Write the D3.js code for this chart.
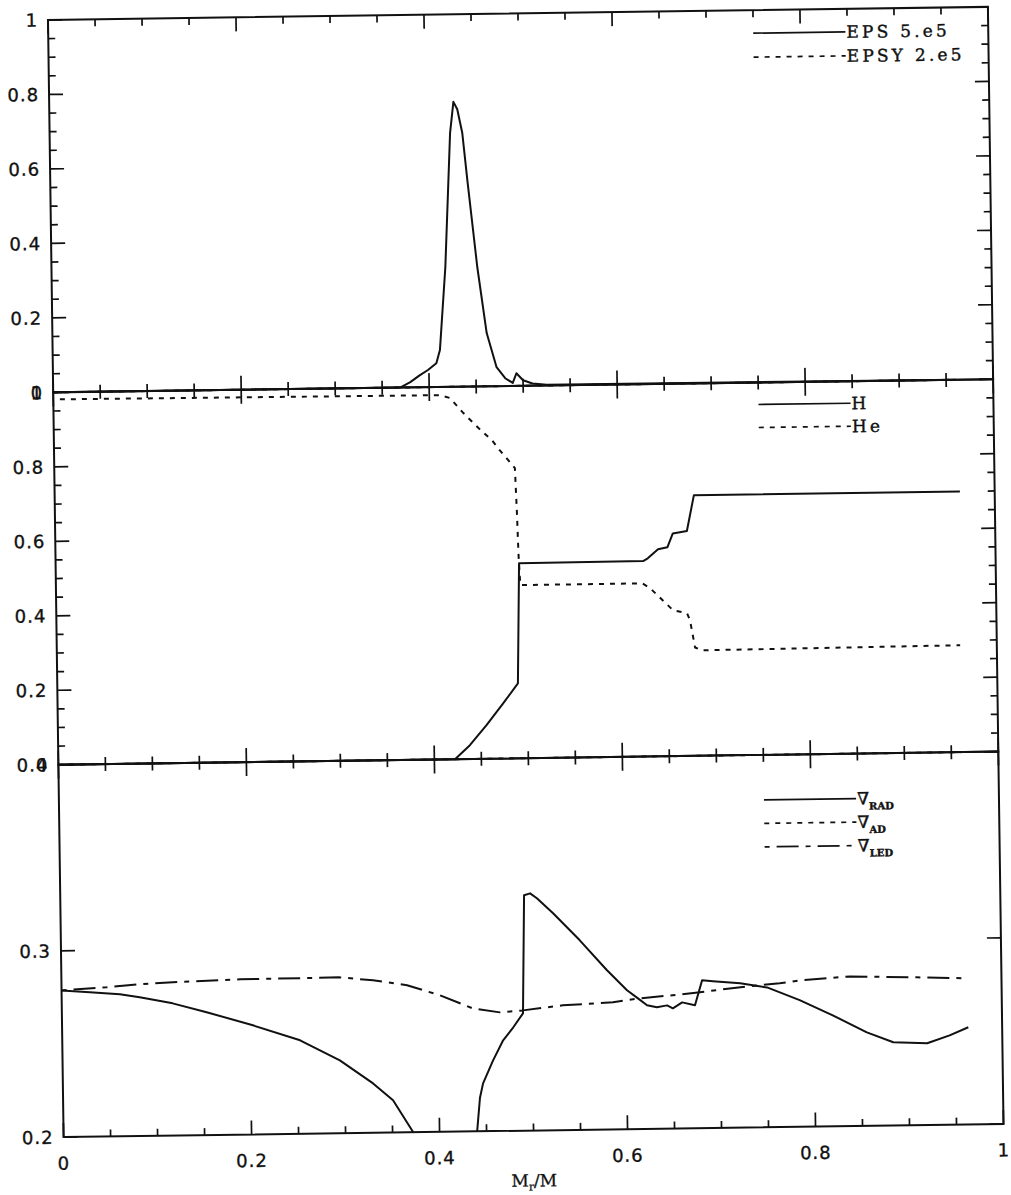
<!DOCTYPE html>
<html>
<head>
<meta charset="utf-8">
<script src="https://cdn.jsdelivr.net/npm/d3@7"></script>
<style>
  html, body { margin: 0; padding: 0; background: #fff; }
  svg { display: block; }
</style>
</head>
<body>
<div id="chart"></div>
<script>
// --------------------------------------------
// DATA
// --------------------------------------------

const massTicks = [0, 0.2, 0.4, 0.6, 0.8, 1];
const massTickLabels = ["0", "0.2", "0.4", "0.6", "0.8", "1"];

const epsTicks = [0, 0.2, 0.4, 0.6, 0.8, 1];
const epsTickLabels = ["0", "0.2", "0.4", "0.6", "0.8", "1"];
const abundTicks = [0, 0.2, 0.4, 0.6, 0.8, 1];
const abundTickLabels = ["0", "0.2", "0.4", "0.6", "0.8", "1"];
const gradTicks = [0.2, 0.3, 0.4];
const gradTickLabels = ["0.2", "0.3", "0.4"];

// energy generation (EPS / 5.e5, EPSY / 2.e5)
const eps = [
  [0, 0], [0.369, 0], [0.380, 0.014], [0.390, 0.032], [0.399, 0.046],
  [0.408, 0.064], [0.412, 0.099], [0.419, 0.322], [0.426, 0.681],
  [0.430, 0.765], [0.434, 0.745], [0.439, 0.681], [0.444, 0.546],
  [0.453, 0.320], [0.462, 0.143], [0.472, 0.051], [0.481, 0.021],
  [0.489, 0.008], [0.493, 0.034], [0.500, 0.015], [0.510, 0.006],
  [0.525, 0.002], [0.960, 0],
];
const epsy = [[0, 0], [0.960, 0]];

// abundances
const hydrogen = [
  [0, 0], [0.422, 0], [0.438, 0.037], [0.456, 0.090], [0.474, 0.148],
  [0.490, 0.201], [0.493, 0.524], [0.625, 0.525], [0.630, 0.532],
  [0.641, 0.556], [0.651, 0.561], [0.657, 0.598], [0.672, 0.604],
  [0.680, 0.700], [0.963, 0.700],
];
const helium = [
  [0.007, 0.981], [0.411, 0.978], [0.422, 0.970], [0.436, 0.929],
  [0.454, 0.883], [0.466, 0.855], [0.474, 0.828], [0.483, 0.801],
  [0.490, 0.779], [0.4915, 0.658], [0.4925, 0.551], [0.494, 0.465],
  [0.624, 0.465], [0.632, 0.452], [0.642, 0.427], [0.656, 0.392],
  [0.671, 0.383], [0.674, 0.364], [0.679, 0.291], [0.686, 0.283],
  [0.961, 0.287],
];

// gradients (null = below the frame)
const gradRad = [
  [0, 0.2788], [0.030, 0.2776], [0.062, 0.2763], [0.083, 0.2745],
  [0.118, 0.271], [0.154, 0.266], [0.203, 0.2586], [0.253, 0.2502],
  [0.295, 0.2391], [0.330, 0.2265], [0.351, 0.2173], [0.372, 0.2],
  [0.40, null],
  [0.440, 0.2], [0.4435, 0.218], [0.447, 0.2257], [0.458, 0.238],
  [0.469, 0.2487], [0.480, 0.2556], [0.4905, 0.263], [0.4934, 0.3264],
  [0.4998, 0.3274], [0.507, 0.3247], [0.524, 0.3165], [0.552, 0.3018],
  [0.5805, 0.2855], [0.6015, 0.2746], [0.613, 0.2702], [0.6226, 0.2664],
  [0.633, 0.2653], [0.644, 0.2662], [0.650, 0.2646], [0.660, 0.2677],
  [0.6736, 0.2661], [0.6815, 0.2794], [0.693, 0.2788], [0.722, 0.2775],
  [0.7505, 0.2751], [0.785, 0.268], [0.820, 0.2596], [0.856, 0.2502],
  [0.884, 0.2447], [0.920, 0.2439], [0.944, 0.248], [0.964, 0.2522],
];
const gradAd = [[0, 0.4], [0.960, 0.4]];
const gradLed = [
  [0, 0.2788], [0.048, 0.2801], [0.0835, 0.2815], [0.1186, 0.2823],
  [0.190, 0.2834], [0.296, 0.2837], [0.3315, 0.2819], [0.3676, 0.279],
  [0.4025, 0.2733], [0.4374, 0.266], [0.466, 0.2637], [0.4905, 0.2646],
  [0.533, 0.267], [0.5864, 0.2683], [0.615, 0.2702], [0.650, 0.2716],
  [0.679, 0.273], [0.729, 0.2758], [0.764, 0.2772], [0.786, 0.2787],
  [0.839, 0.2804], [0.910, 0.2794], [0.963, 0.2785],
];

// --------------------------------------------
// LAYOUT
// --------------------------------------------

const WIDTH = 1011;
const HEIGHT = 1195;
const W = 940; // frame width
const PH = 372.4; // height of one panel
const TILT = -0.8; // the scanned page is slightly rotated
const INK = "#111";

const DASH = "5,6";
const DASHDOT = "5,7,22,7";

const panels = [
  {
    domain: [0, 1], ticks: epsTicks, labels: epsTickLabels, minor: true,
    series: [{ data: eps, dash: null }, { data: epsy, dash: DASH }],
    legend: [
      { text: "EPS 5.e5", dash: null },
      { text: "EPSY 2.e5", dash: DASH },
    ],
    legendTop: 23, legendStep: 24,
  },
  {
    domain: [0, 1], ticks: abundTicks, labels: abundTickLabels, minor: true,
    series: [{ data: hydrogen, dash: null }, { data: helium, dash: DASH }],
    legend: [
      { text: "H", dash: null },
      { text: "He", dash: DASH },
    ],
    legendTop: 22, legendStep: 23,
  },
  {
    domain: [0.2, 0.4], ticks: gradTicks, labels: gradTickLabels, minor: false,
    series: [
      { data: gradRad, dash: null },
      { data: gradAd, dash: DASH },
      { data: gradLed, dash: DASHDOT },
    ],
    legend: [
      { text: "∇", sub: "RAD", dash: null },
      { text: "∇", sub: "AD", dash: DASH },
      { text: "∇", sub: "LED", dash: DASHDOT },
    ],
    legendTop: 45, legendStep: 23.5,
  },
];

// --------------------------------------------
// DRAWING
// --------------------------------------------

const isMajor = (v, step) => Math.abs(v / step - Math.round(v / step)) < 1e-6;

// scanned, slightly heavy tick label text
const tickText = (sel) =>
  sel
    .attr("font-family", "'DejaVu Sans', sans-serif")
    .attr("font-size", 18)
    .attr("letter-spacing", 1)
    .attr("fill", INK)
    .attr("stroke", INK)
    .attr("stroke-width", 0.35);

const svg = d3
  .select("#chart")
  .append("svg")
  .attr("width", WIDTH)
  .attr("height", HEIGHT);

svg.append("rect").attr("width", WIDTH).attr("height", HEIGHT).attr("fill", "#fff");

const root = svg
  .append("g")
  .attr("transform", `translate(48,20) rotate(${TILT})`);

const x = d3.scaleLinear().domain([0, 1]).range([0, W]);
const xMinor = x.ticks(20);

const drawPanel = (panel, i) => {
  const top = PH * i;
  const bottom = PH * (i + 1);
  const y = d3.scaleLinear().domain(panel.domain).range([bottom, top]);
  const g = root.append("g");

  // curves
  const line = d3
    .line()
    .defined((d) => d[1] !== null)
    .x((d) => x(d[0]))
    .y((d) => y(d[1]));

  panel.series.forEach((s) => {
    g.append("path")
      .attr("d", line(s.data))
      .attr("fill", "none")
      .attr("stroke", INK)
      .attr("stroke-width", 2)
      .attr("stroke-linejoin", "round")
      .attr("stroke-dasharray", s.dash);
  });

  // frame
  g.append("rect")
    .attr("x", 0)
    .attr("y", top)
    .attr("width", W)
    .attr("height", PH)
    .attr("fill", "none")
    .attr("stroke", INK)
    .attr("stroke-width", 2);

  // x ticks (top: downward, bottom: upward)
  xMinor.forEach((v) => {
    const len = isMajor(v, 0.2) ? 14 : 7;
    g.append("line")
      .attr("x1", x(v)).attr("x2", x(v))
      .attr("y1", top).attr("y2", top + len)
      .attr("stroke", INK).attr("stroke-width", 1.7);
    g.append("line")
      .attr("x1", x(v)).attr("x2", x(v))
      .attr("y1", bottom).attr("y2", bottom - len)
      .attr("stroke", INK).attr("stroke-width", 1.7);
  });

  // y ticks on both sides
  const yTicks = panel.minor ? y.ticks(20) : panel.ticks;
  yTicks.forEach((v) => {
    const len = panel.ticks.some((t) => Math.abs(t - v) < 1e-9) ? 14 : 7;
    g.append("line")
      .attr("x1", 0).attr("x2", len)
      .attr("y1", y(v)).attr("y2", y(v))
      .attr("stroke", INK).attr("stroke-width", 1.7);
    g.append("line")
      .attr("x1", W).attr("x2", W - len)
      .attr("y1", y(v)).attr("y2", y(v))
      .attr("stroke", INK).attr("stroke-width", 1.7);
  });

  // y tick labels (neighbouring panels overprint at the dividers, as in the original)
  g.selectAll(null)
    .data(panel.ticks)
    .enter()
    .append("text")
    .attr("x", -10)
    .attr("y", (d) => y(d))
    .attr("dy", "0.36em")
    .attr("text-anchor", "end")
    .call(tickText)
    .text((d, k) => panel.labels[k]);

  // legend
  panel.legend.forEach((item, k) => {
    const ly = top + panel.legendTop + k * panel.legendStep;
    g.append("line")
      .attr("x1", x(0.75)).attr("x2", x(0.848))
      .attr("y1", ly).attr("y2", ly)
      .attr("stroke", INK)
      .attr("stroke-width", 1.7)
      .attr("stroke-dasharray", item.dash);
    const t = g
      .append("text")
      .attr("x", x(0.848) + 1)
      .attr("y", ly + 6)
      .attr("font-family", "'DejaVu Serif', serif")
      .attr("font-size", item.sub ? 17 : 17)
      .attr("letter-spacing", item.sub ? 0 : 3.2)
      .attr("fill", INK)
      .attr("stroke", INK)
      .attr("stroke-width", 0.4);
    t.append("tspan").text(item.text);
    if (item.sub) {
      t.append("tspan")
        .attr("dy", 5)
        .attr("font-size", 10)
        .attr("font-weight", "bold")
        .text(item.sub);
    }
  });

  return y;
};

panels.forEach(drawPanel);

// x tick labels and title (bottom panel only)
const base = PH * panels.length;

root
  .selectAll(null)
  .data(massTicks)
  .enter()
  .append("text")
  .attr("x", (d) => x(d))
  .attr("y", base + 26)
  .attr("dy", "0.36em")
  .attr("text-anchor", "middle")
  .call(tickText)
  .text((d, k) => massTickLabels[k]);

const title = root
  .append("text")
  .attr("x", x(0.5))
  .attr("y", base + 56)
  .attr("text-anchor", "middle")
  .attr("font-family", "'DejaVu Serif', serif")
  .attr("font-size", 17)
  .attr("fill", INK)
  .attr("stroke", INK)
  .attr("stroke-width", 0.3);
title.append("tspan").text("M");
title.append("tspan").attr("dy", 4).attr("font-size", 11).text("r");
title.append("tspan").attr("dy", -4).text("/M");
</script>
</body>
</html>
